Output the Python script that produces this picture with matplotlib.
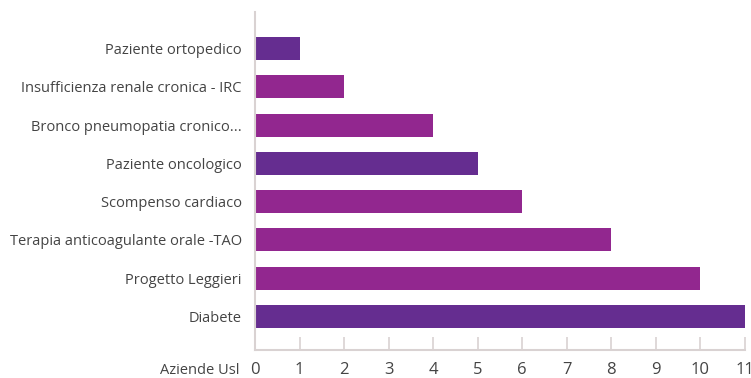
import matplotlib
matplotlib.use("Agg")
import matplotlib.pyplot as plt

categories = [
    "Paziente ortopedico",
    "Insufficienza renale cronica - IRC",
    "Bronco pneumopatia cronico...",
    "Paziente oncologico",
    "Scompenso cardiaco",
    "Terapia anticoagulante orale -TAO",
    "Progetto Leggieri",
    "Diabete",
]
values = [1, 2, 4, 5, 6, 8, 10, 11]
x_ticks = list(range(0, 12))
x_label = "Aziende Usl"

DARK = "#652d90"
MAGENTA = "#92278f"
bar_colors = [DARK, MAGENTA, MAGENTA, DARK, MAGENTA, MAGENTA, MAGENTA, DARK]

plt.rcParams["font.family"] = ["Open Sans", "DejaVu Sans"]

W, H = 751, 378
fig = plt.figure(figsize=(W / 100, H / 100), dpi=100)
ax = fig.add_axes([255 / W, 1 - 350 / H, (745 - 255) / W, (350 - 12) / H])

n = len(categories)
ypos = [n - 1 - i for i in range(n)]
ax.barh(ypos, values, height=0.6, color=bar_colors, zorder=2)

ax.set_xlim(0, 11)
ax.set_ylim(-0.875, n - 1 + 0.953)
ax.set_yticks(ypos)
ax.set_yticklabels(categories)
ax.set_xticks(x_ticks)

text_color = "#444444"
axis_color = "#d9d2d2"
for side in ("top", "right"):
    ax.spines[side].set_visible(False)
for side in ("left", "bottom"):
    ax.spines[side].set_color(axis_color)
    ax.spines[side].set_linewidth(1.5)

ax.tick_params(axis="y", length=0, pad=9.5, labelsize=10.5, labelcolor=text_color)
ax.tick_params(axis="x", direction="in", length=9.4, width=1.2, color=axis_color,
               pad=8.5, labelsize=12, labelcolor=text_color)

ax.text(240 / W, 1 - 371 / H, x_label, transform=fig.transFigure,
        ha="right", va="center", fontsize=10.5, color=text_color)

fig.savefig("out.png", dpi=100)
